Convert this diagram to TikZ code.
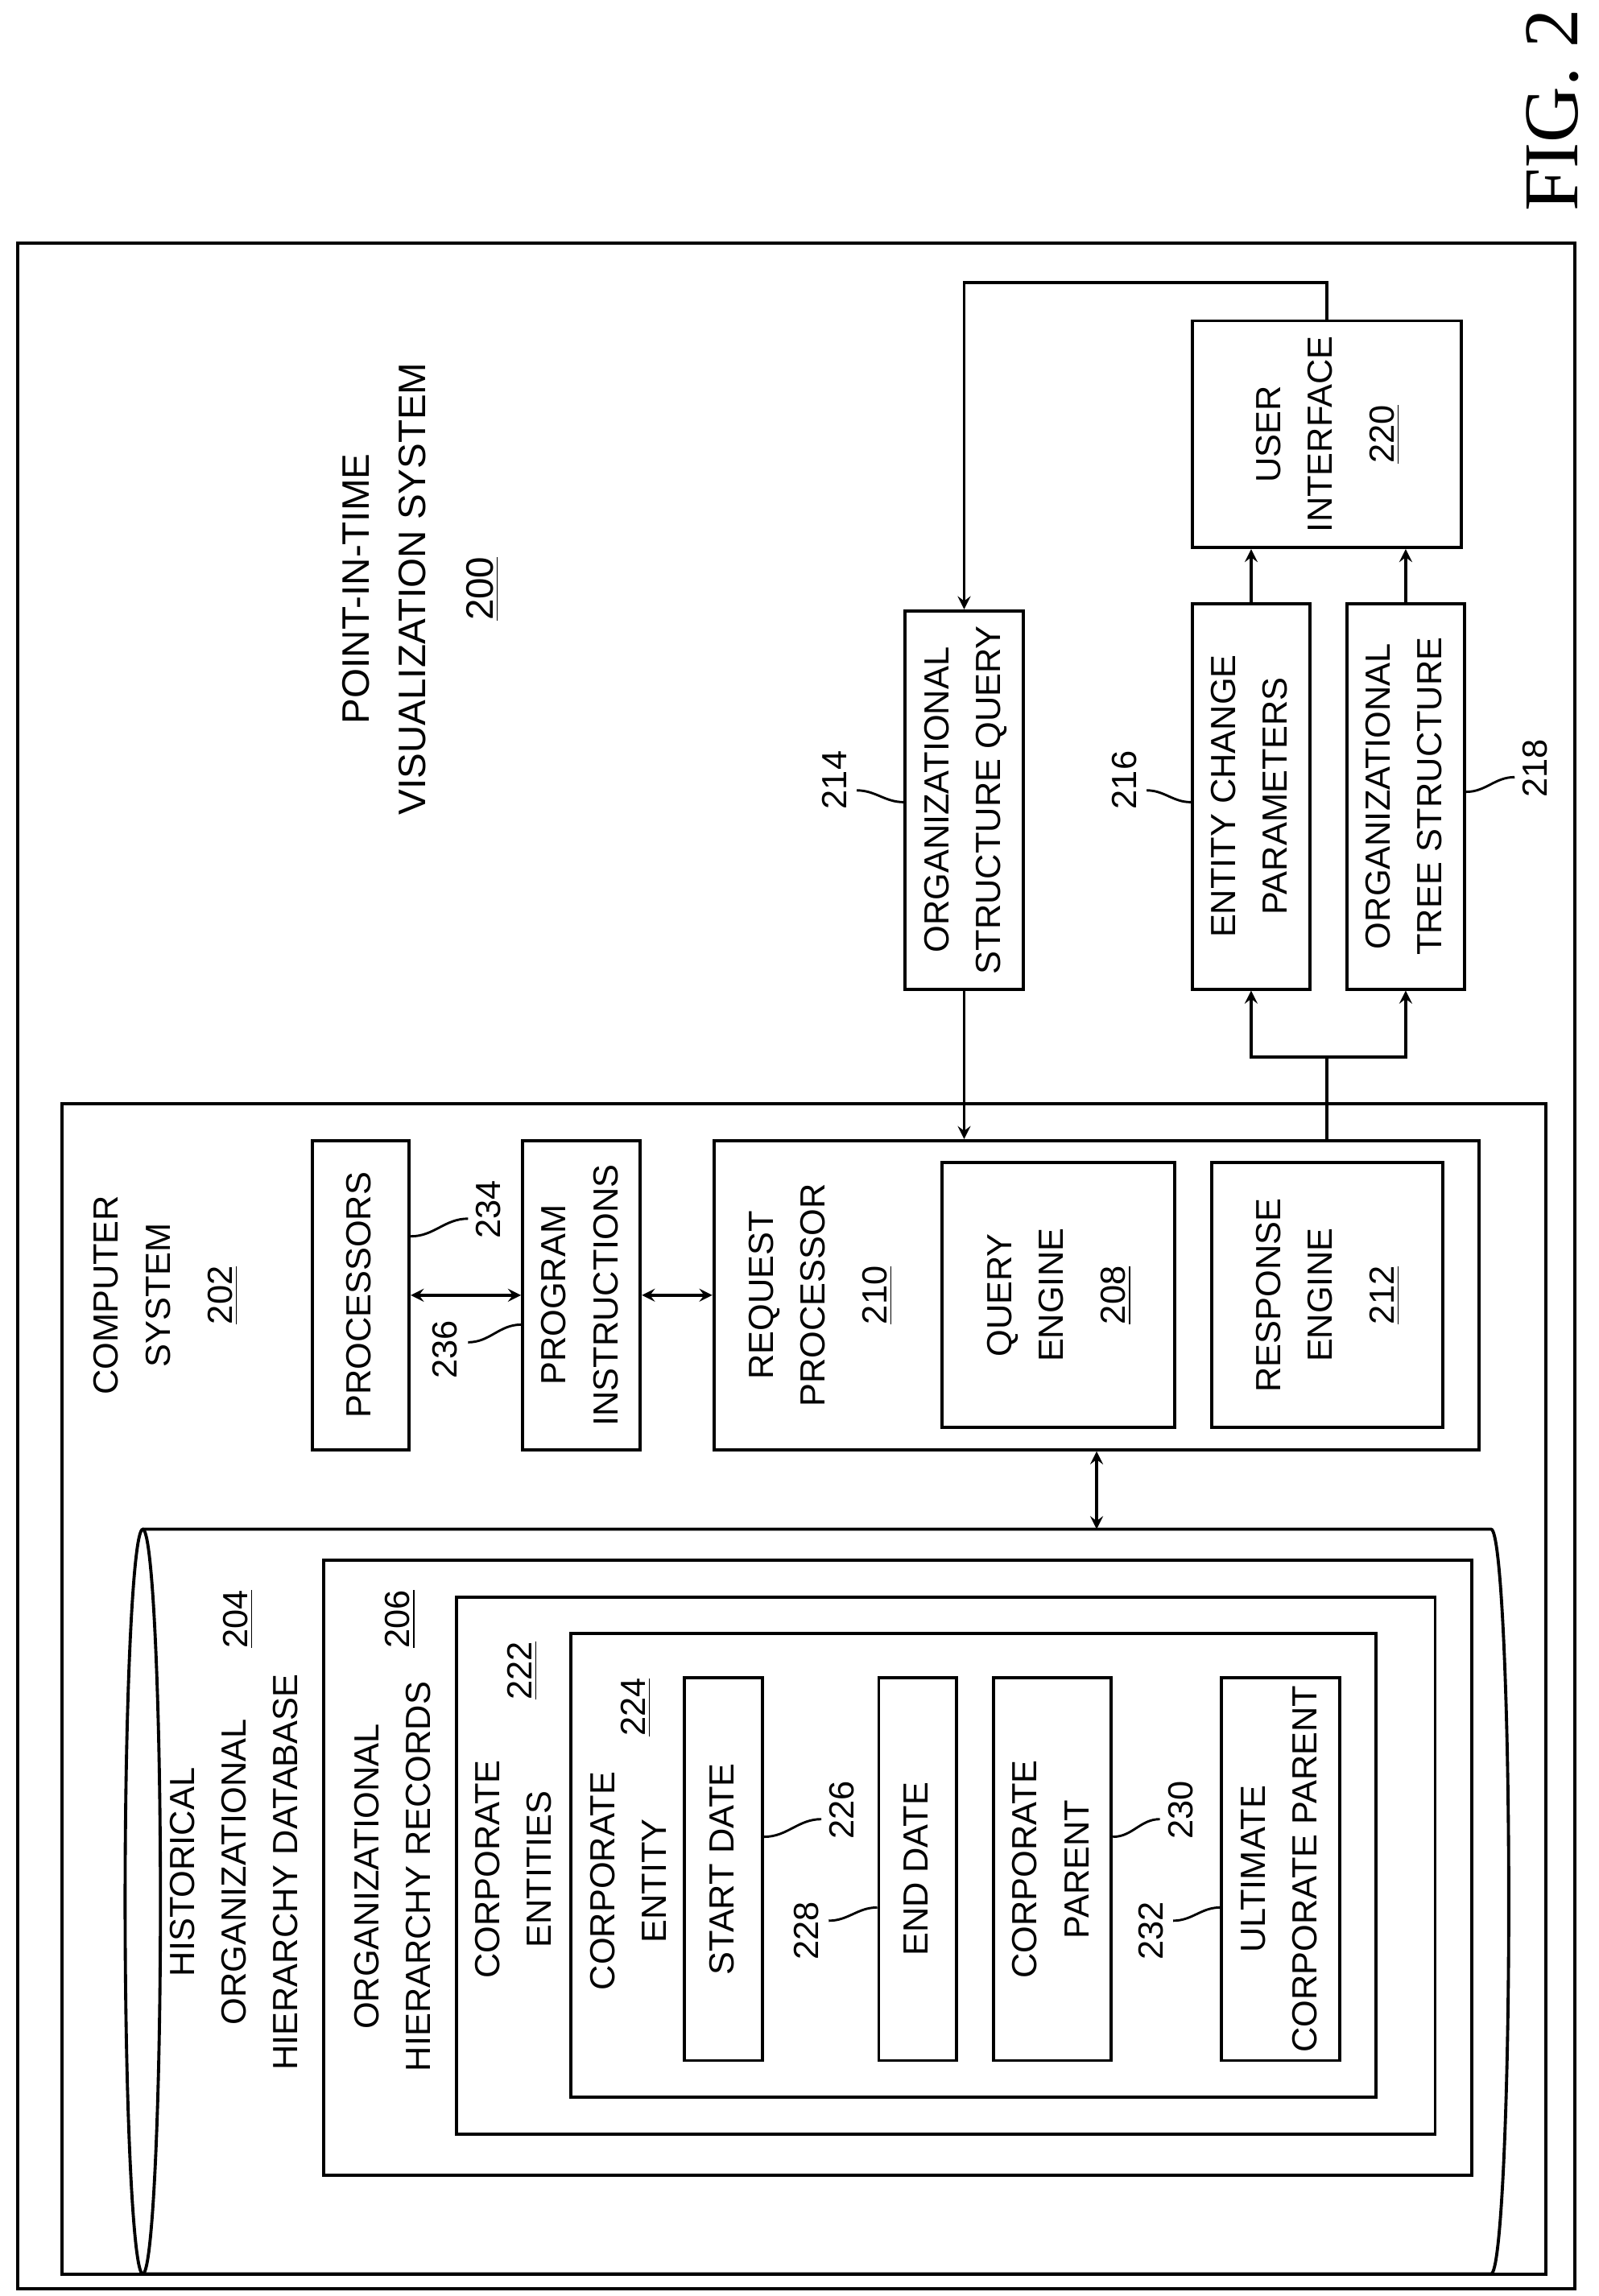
\documentclass[tikz,border=0pt]{standalone}
\usepackage{fontspec}
\usepackage{graphicx}
\setmainfont{Liberation Sans}
\newfontfamily\figfont{Liberation Serif}
\usetikzlibrary{fit, arrows}
\newcommand{\rt}[1]{\rotatebox{90}{\begin{tabular}{@{}c@{}}#1\end{tabular}}}

\begin{document}
\begin{tikzpicture}[x=0.02cm,y=-0.02cm,line width=1.2pt,>=stealth,
  box/.style={draw,inner sep=0pt},
  lbl/.style={inner sep=0pt,font=\fontsize{13.5}{20}\selectfont},
  num/.style={inner sep=0pt,rotate=90,font=\fontsize{13.5}{20}\selectfont},
  lead/.style={line width=0.9pt}]
  \useasboundingbox (0,0) rectangle (1086,1560);
  \node[inner sep=0pt,rotate=90,font=\figfont\fontsize{30}{30}\selectfont] (fig) at (1055,75) {FIG. 2};
  %外枠
  \node[box,fit={(12,165)(1070,1555)}] (sys) {};
  \node[lbl,font=\fontsize{14.8}{22}\selectfont] (systxt) at (285,400) {\rt{POINT-IN-TIME\\VISUALIZATION SYSTEM\\[4pt]\underline{200}}};
  \node[box,fit={(42,750)(1050,1545)}] (comp) {};
  \node[lbl] (comptxt) at (112,880) {\rt{COMPUTER\\SYSTEM\\[4pt]\underline{202}}};
  %処理部
  \node[box,fit={(212,775)(278,985)},label={[lbl]center:\rt{PROCESSORS}}] (proc) {};
  \node[box,fit={(355,775)(435,985)},label={[lbl]center:\rt{PROGRAM\\INSTRUCTIONS}}] (prog) {};
  \node[box,fit={(485,775)(1005,985)}] (reqp) {};
  \node[lbl] (reqtxt) at (557,880) {\rt{REQUEST\\PROCESSOR\\[4pt]\underline{210}}};
  \node[box,fit={(640,790)(798,970)},label={[lbl]center:\rt{QUERY\\ENGINE\\[4pt]\underline{208}}}] (qeng) {};
  \node[box,fit={(823,790)(980,970)},label={[lbl]center:\rt{RESPONSE\\ENGINE\\[4pt]\underline{212}}}] (reng) {};
  %問合せと応答
  \node[box,fit={(615,415)(695,672)},label={[lbl]center:\rt{ORGANIZATIONAL\\STRUCTURE QUERY}}] (osq) {};
  \node[box,fit={(810,410)(890,672)},label={[lbl]center:\rt{ENTITY CHANGE\\PARAMETERS}}] (ecp) {};
  \node[box,fit={(915,410)(995,672)},label={[lbl]center:\rt{ORGANIZATIONAL\\TREE STRUCTURE}}] (ots) {};
  \node[box,fit={(810,218)(993,372)},label={[lbl]center:\rt{USER\\INTERFACE\\[4pt]\underline{220}}}] (ui) {};
  \draw[->] (ui.north) |- (655,192) -- (osq.north);
  \draw[->] (osq.south) -- (osq.south |- reqp.north);
  \draw (reqp.north -| reng.north) -- (901.5,718) coordinate (br);
  \draw[->] (br) -| (ecp.south);
  \draw[->] (br) -| (ots.south);
  \draw[->] (ecp.north) -- (ecp.north |- ui.south);
  \draw[->] (ots.north) -- (ots.north |- ui.south);
  \draw[<->] (proc) -- (prog);
  \draw[<->] (prog) -- (reqp);
  %データベース
  \draw (97,1039) -- (1013,1039) arc[start angle=90,end angle=-90,x radius=0.24cm,y radius=5.06cm] -- (97,1545);
  \draw (97,1292) ellipse[x radius=0.24cm,y radius=5.06cm];
  \coordinate (dbtop) at (745,1039);
  \draw[<->] (reqp.south -| dbtop) -- (dbtop);
  \node[lbl] (dbtxt) at (160,1272) {\rt{HISTORICAL\\ORGANIZATIONAL\\HIERARCHY DATABASE}};
  \node[num] (n204) at (162,1100) {\underline{204}};
  \node[box,fit={(220,1060)(1000,1478)}] (rec) {};
  \node[lbl] (rectxt) at (268,1275) {\rt{ORGANIZATIONAL\\HIERARCHY RECORDS}};
  \node[num] (n206) at (272,1100) {\underline{206}};
  \node[box,fit={(310,1085)(975,1450)}] (ents) {};
  \node[lbl] (entstxt) at (350,1270) {\rt{CORPORATE\\ENTITIES}};
  \node[num] (n222) at (355,1135) {\underline{222}};
  \node[box,fit={(388,1110)(935,1425)}] (ent) {};
  \node[lbl] (enttxt) at (428,1278) {\rt{CORPORATE\\ENTITY}};
  \node[num] (n224) at (432,1160) {\underline{224}};
  \node[box,fit={(465,1140)(518,1400)},label={[lbl]center:\rt{START DATE}}] (sd) {};
  \node[box,fit={(597,1140)(650,1400)},label={[lbl]center:\rt{END DATE}}] (ed) {};
  \node[box,fit={(675,1140)(755,1400)},label={[lbl]center:\rt{CORPORATE\\PARENT}}] (cp) {};
  \node[box,fit={(830,1140)(910,1400)},label={[lbl]center:\rt{ULTIMATE\\CORPORATE PARENT}}] (ucp) {};
  %参照番号
  \node[num] (n234) at (332,822) {234};
  \node[num] (n236) at (302,917) {236};
  \node[num] (n214) at (567,530) {214};
  \node[num] (n216) at (764,530) {216};
  \node[num] (n218) at (1043,522) {218};
  \node[num] (n226) at (572,1230) {226};
  \node[num] (n228) at (548,1312) {228};
  \node[num] (n230) at (802,1230) {230};
  \node[num] (n232) at (782,1312) {232};
  \draw[lead] (proc.east |- 0,840) to[out=0,in=180] (318,828);
  \draw[lead] (318,912) to[out=0,in=180] (prog.west |- 0,900);
  \draw[lead] (582,537) to[out=0,in=180] (osq.west |- 0,545);
  \draw[lead] (779,537) to[out=0,in=180] (ecp.west |- 0,545);
  \draw[lead] (1029,528) to[out=180,in=0] (ots.east |- 0,538);
  \draw[lead] (sd.east |- 0,1248) to[out=0,in=180] (558,1236);
  \draw[lead] (563,1305) to[out=0,in=180] (ed.west |- 0,1296);
  \draw[lead] (cp.east |- 0,1248) to[out=0,in=180] (788,1236);
  \draw[lead] (797,1305) to[out=0,in=180] (ucp.west |- 0,1296);
\end{tikzpicture}
\end{document}
